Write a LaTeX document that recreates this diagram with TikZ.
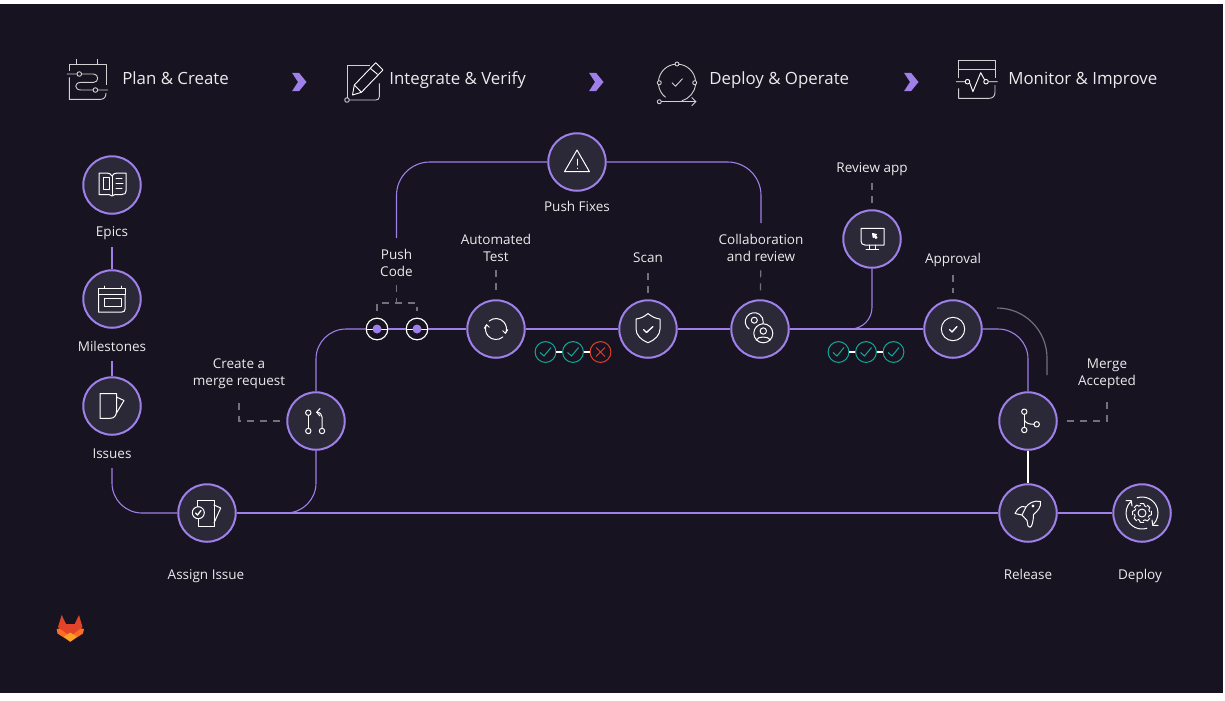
\documentclass[tikz,border=0pt]{standalone}
\usepackage{fontspec}
\setmainfont{Open Sans}
\usetikzlibrary{arrows.meta}
\definecolor{pagebg}{HTML}{171321}
\definecolor{discbg}{HTML}{2B2838}
\definecolor{accent}{HTML}{9E80E8}
\definecolor{dashgray}{HTML}{74717C}
\definecolor{okteal}{HTML}{12A89B}
\definecolor{badred}{HTML}{E0402A}
\definecolor{foxred}{HTML}{E24329}
\definecolor{foxorange}{HTML}{FC6D26}
\definecolor{foxyellow}{HTML}{FCA326}
\tikzset{
  stage/.style={circle,draw=accent,line width=1.2pt,fill=discbg,minimum size=34.5pt,inner sep=0pt},
  dotring/.style={circle,draw=white,line width=.7pt,fill=pagebg,minimum size=13pt,inner sep=0pt},
  checkring/.style={circle,draw=okteal,line width=.6pt,fill=pagebg,minimum size=12.5pt,inner sep=0pt},
  crossring/.style={circle,draw=badred,line width=.6pt,fill=pagebg,minimum size=12.5pt,inner sep=0pt},
  lab/.style={text=white!92!black,font=\fontsize{8.1}{10.2}\selectfont,align=center,inner sep=0pt},
  baselab/.style={lab,anchor=base},
  head/.style={text=white!92!black,font=\fontsize{10.1}{12}\selectfont,anchor=base west,inner sep=0pt},
  flow/.style={draw=accent,line width=.65pt},
  bigcorner/.style={rounded corners=18pt},
  leader/.style={draw=dashgray,line width=.7pt,dash pattern=on 4.2pt off 3.6pt},
  ico/.style={draw=white,line width=.6pt,line join=round,line cap=round},
  headico/.style={draw=white!82!black,line width=.55pt,line join=round},
}
\newcommand{\chevron}[1]{\fill[accent,shift={(#1)}] (-7,-9.2) -- (0,-9.2) -- (7.5,0) -- (0,9.2) -- (-7,9.2) -- (-1,0) -- cycle;}
\begin{document}
\begin{tikzpicture}[x=.6pt,y=-.6pt]
\useasboundingbox (0,0) rectangle (1225,700);
\fill[white] (0,0) rectangle (1225,700);
\fill[pagebg] (0,4) rectangle (1223,693);

% stages
\node[stage] (epics) at (112,185) {};
\node[stage] (miles) at (112,299) {};
\node[stage] (issues) at (112,406) {};
\node[stage] (assign) at (207,513) {};
\node[stage] (mr) at (316,421) {};
\node[stage] (test) at (496,329) {};
\node[stage] (scan) at (648,329) {};
\node[stage] (collab) at (760,329) {};
\node[stage] (fixes) at (577,162) {};
\node[stage] (review) at (872,239) {};
\node[stage] (approval) at (953,329) {};
\node[stage] (merge) at (1028,421) {};
\node[stage] (release) at (1028,513) {};
\node[stage] (deploy) at (1142,513) {};
\node[dotring] (push1) at (377,329) {};
\node[dotring] (push2) at (417,329) {};

% labels
\node[baselab] (epicslab) at (112,236.7) {Epics};
\node[baselab] (mileslab) at (112,351.7) {Milestones};
\node[baselab] (issueslab) at (112,458.6) {Issues};
\node[baselab] (assignlab) at (206,579) {Assign Issue};
\node[lab] (mrlab) at (239,374) {Create a\\merge request};
\node[lab] (pushlab) at (396.5,263) {Push\\Code};
\node[lab] (testlab) at (496,248) {Automated\\Test};
\node[baselab] (scanlab) at (648,262.7) {Scan};
\node[lab] (collablab) at (761,248) {Collaboration\\and review};
\node[baselab] (fixeslab) at (577,211.7) {Push Fixes};
\node[baselab] (reviewlab) at (872,172.7) {Review app};
\node[baselab] (approvallab) at (953,263.3) {Approval};
\node[lab] (mergelab) at (1107,374) {Merge\\Accepted};
\node[baselab] (releaselab) at (1028,579) {Release};
\node[baselab] (deploylab) at (1140,579) {Deploy};

% free ends
\coordinate (pfleft) at (396.5,238);
\coordinate (pfright) at (761,223);
\coordinate (epicsend) at (112,247);
\coordinate (milesend) at (112,361);
\coordinate (issuesend) at (112,468);
\coordinate (arcstart) at (997,308);
\coordinate (arcend) at (1047,375);
\coordinate (pushjoin) at (396.5,303);

% flow lines
\draw[flow] (epicsend) -- (miles);
\draw[flow] (milesend) -- (issues);
\draw[flow,bigcorner] (issuesend) |- (assign);
\draw[flow] (assign) -- (release);
\draw[flow,bigcorner] (assign) -| (mr);
\draw[flow,bigcorner] (mr) |- (push1);
\draw[flow] (push1) -- (push2);
\draw[flow] (push2) -- (test);
\draw[flow] (test) -- (scan);
\draw[flow] (scan) -- (collab);
\draw[flow] (collab) -- (approval);
\draw[flow,rounded corners=13pt] (review) |- (collab);
\draw[flow,bigcorner] (approval) -| (merge);
\draw[white,line width=.65pt] (merge) -- (release);
\draw[flow] (release) -- (deploy);
\draw[flow,rounded corners=20pt] (pfleft) |- (fixes);
\draw[flow,rounded corners=20pt] (fixes) -| (pfright);
\draw[dashgray,line width=.7pt,rounded corners=30pt] (arcstart) -| (arcend);

% dashed leaders
\draw[leader,shorten <=5pt,shorten >=4pt] (testlab) -- (test);
\draw[leader,shorten <=6pt,shorten >=4pt] (scanlab) -- (scan);
\draw[leader,shorten <=5pt,shorten >=4pt] (collablab) -- (collab);
\draw[leader,shorten <=4.2pt,shorten >=4pt] (reviewlab) -- (review);
\draw[leader,shorten <=5pt,shorten >=4pt] (approvallab) -- (approval);
\draw[leader,shorten <=5pt] (pushlab) -- (pushjoin);
\draw[leader,shorten <=4pt,shorten >=4pt] (push1) |- (pushjoin) -| (push2);
\draw[leader,shorten <=3.9pt,shorten >=4.5pt] (mr) -| (mrlab);
\draw[leader,shorten <=5.4pt,shorten >=4.5pt] (merge) -| (mergelab);

% dots on the push line
\foreach \p in {push1,push2} {
  \draw[white,line width=.6pt] (\p.west) -- (\p.east);
  \fill[accent] (\p) circle[radius=4.5];
}

% check rows
\node[checkring] (chka) at (545.5,352) {};
\node[checkring] (chkb) at (573,352) {};
\node[crossring] (chkc) at (600.5,352) {};
\node[checkring] (chkd) at (838.5,352) {};
\node[checkring] (chke) at (866,352) {};
\node[checkring] (chkf) at (893.5,352) {};
\draw[white,line width=.7pt] (chka) -- (chkb);
\draw[white,line width=.7pt] (chkb) -- (chkc);
\draw[white,line width=.7pt] (chkd) -- (chke);
\draw[white,line width=.7pt] (chke) -- (chkf);
\foreach \c in {chka,chkb,chkd,chke,chkf}
  \draw[okteal,line width=.6pt,shift={(\c)}] (-5.5,.5) -- (-1.5,4) -- (5.5,-4.5);
\draw[badred,line width=.6pt,shift={(chkc)}] (-4.5,-4.5) -- (4.5,4.5) (-4.5,4.5) -- (4.5,-4.5);

% icons in the discs
\begin{scope}[shift={(epics)},ico]
  \draw (-13,-12) -- (-13,9.5) -- (-3,9.5) -- (0,11) -- (3,9.5) -- (10,9.5) .. controls (13,9.5) and (14,8) .. (14,6) -- (14,-12) -- (5,-12) .. controls (3,-12) and (1,-11) .. (0,-9) .. controls (-1,-11) and (-3,-12) .. (-5,-12) -- cycle;
  \draw (0,-9) -- (0,10);
  \draw (-9,-7.5) rectangle (-3,4);
  \draw (4,-6.5) -- (10,-6.5) (4,-1.5) -- (11,-1.5) (4,3) -- (10,3);
\end{scope}
\begin{scope}[shift={(miles)},ico]
  \draw (-13.5,-11) rectangle (13,-4.5);
  \draw (-7.5,-13) -- (-7.5,-11) (9,-13) -- (9,-11);
  \draw (-13.5,-4.5) -- (-13.5,13) -- (10,13) .. controls (12,13) and (13,12) .. (13,10) -- (13,-4.5);
  \draw (-7.5,-1) -- (9,-1) -- (9,7) -- (-7.5,7) -- cycle;
\end{scope}
\begin{scope}[shift={(issues)},ico]
  \draw (-12,-12.5) -- (4.5,-12.5) -- (4.5,5) .. controls (4.5,10) and (2,12.3) .. (-2,12.3) -- (-12,12.3) -- cycle;
  \draw (4.5,-9) -- (12,-5.5) -- (4.5,7);
\end{scope}
\begin{scope}[shift={(assign)},ico]
  \draw (-10,-6) -- (-10,-13) -- (7,-13) -- (7,13) -- (-9,13) -- (-9,6);
  \draw (7,-8) -- (13.7,-5) -- (7,10);
  \fill[discbg] (-8.7,-.3) circle[radius=6];
  \draw (-8.7,-.3) circle[radius=6];
  \draw[line width=.8pt] (-11.5,0) -- (-9.5,2) -- (-6,-2.5);
\end{scope}
\begin{scope}[shift={(mr)},ico]
  \draw (-7.7,-8.3) circle[radius=2.7] (-7.7,10) circle[radius=2.7] (6,10) circle[radius=2.7];
  \draw (-7.7,-5.6) -- (-7.7,7.3);
  \draw (6,7.3) -- (6,-4) .. controls (6,-7) and (4,-8.7) .. (.7,-8.7);
  \draw (4,-12.5) -- (.7,-8.7) -- (4,-5);
\end{scope}
\begin{scope}[shift={(test)},ico]
  \draw (229:10.5) arc[start angle=229,end angle=382,radius=10.5];
  \draw (49:10.5) arc[start angle=49,end angle=202,radius=10.5];
  \draw (6.7,1.7) -- (9.3,4.3) -- (11.7,.7);
  \draw (-6.7,-1.7) -- (-9.3,-4.3) -- (-11.7,-.7);
\end{scope}
\begin{scope}[shift={(scan)},ico]
  \draw (0,-15.5) .. controls (-4,-12) and (-8,-10.5) .. (-12,-10) -- (-12,0) .. controls (-12,6) and (-7,11) .. (0,13.7) .. controls (7,11) and (12,6) .. (12,0) -- (12,-10) .. controls (8,-10.5) and (4,-12) .. (0,-15.5) -- cycle;
  \draw[line width=.8pt] (-4.5,.5) -- (-1.5,3.5) -- (5,-2.5);
\end{scope}
\begin{scope}[shift={(collab)},ico]
  \draw[shift={(-5.7,-7.3)}] (125:9) arc[start angle=125,end angle=420,radius=9];
  \fill[discbg] (3.3,4.3) circle[radius=9.5];
  \draw (3.3,4.3) circle[radius=9.5];
  \draw (-5.7,-8.8) circle[radius=3];
  \draw (3.3,2) circle[radius=3.2];
  \draw (-3.8,11) .. controls (-2,7) and (8.5,7) .. (10.3,11);
\end{scope}
\begin{scope}[shift={(fixes)},ico]
  \draw (0,-12) -- (12.5,9.7) -- (-12.5,9.7) -- cycle;
  \draw (0,-3) -- (0,3) (0,6) -- (0,6.5);
\end{scope}
\begin{scope}[shift={(review)},ico]
  \draw (-11,-10.7) -- (12,-10.7) -- (12,6) -- (-7,6) .. controls (-9.5,6) and (-11,4.5) .. (-11,2) -- cycle;
  \draw (-6,10) -- (6.5,10) (-3,6) -- (-3,10) (3.5,6) -- (3.5,10);
  \fill[white,draw=white] (.5,-5.5) -- (4.5,-4.5) -- (3.2,-3.6) -- (5,-1.5) -- (3.8,-.6) -- (2,-2.7) -- (1.2,-1.5) -- cycle;
\end{scope}
\begin{scope}[shift={(approval)},ico]
  \draw (0,0) circle[radius=11.7];
  \draw[line width=.8pt] (-3.5,.5) -- (-1,3) -- (4,-2.5);
\end{scope}
\begin{scope}[shift={(merge)},ico]
  \draw (-3.7,-9.3) circle[radius=2.7] (-3.7,9) circle[radius=2.7] (8.7,3.3) circle[radius=2.7];
  \draw (-3.7,-6.6) -- (-3.7,6.3);
  \draw (-3.7,-1.5) .. controls (-3,2) and (1,3.3) .. (6,3.3);
\end{scope}
\begin{scope}[shift={(release)},ico]
  \draw (12.5,-11.5) .. controls (6,-13) and (1,-10) .. (-2,-6) -- (-6,-6.5) .. controls (-10,-5) and (-12,-2) .. (-13,.5) -- (-6,2) -- (-1,7.5) -- (0,13) .. controls (1,15) and (3,14.5) .. (3.5,13) .. controls (5,9) and (5.5,5) .. (5.5,1.5) .. controls (9.5,-2) and (13.5,-6) .. (12.5,-11.5) -- cycle;
  \draw (-6,2) -- (-2,-6);
  \draw (5,-7) circle[radius=1];
\end{scope}
\begin{scope}[shift={(deploy)},ico]
  \foreach \a in {0,45,...,315}
    \draw (\a-11:9.5) -- (\a+11:9.5) -- (\a+20:7.6) -- (\a+34:7.6);
  \draw (0,0) circle[radius=4];
  \draw (252:16) arc[start angle=252,end angle=405,radius=16];
  \draw (72:16) arc[start angle=72,end angle=225,radius=16];
  \draw (10,7) -- (10.7,12.3) -- (16,12.5);
  \draw (-10,-7) -- (-10.7,-12.3) -- (-16,-12.5);
\end{scope}

% header row
\node[head] (planhead) at (122,84.3) {Plan \& Create};
\node[head] (verifyhead) at (389,84.3) {Integrate \& Verify};
\node[head] (operatehead) at (709,84.3) {Deploy \& Operate};
\node[head] (improvehead) at (1008,84.3) {Monitor \& Improve};
\chevron{299,82}
\chevron{596,82}
\chevron{911,82}

% plan icon
\draw[headico] (69.3,70.5) -- (69.3,64) -- (106,64) -- (106,84.8);
\draw[headico] (76.8,59.3) -- (76.8,64) (97,59.3) -- (97,64);
\draw[headico] (69.3,77.3) -- (69.3,99.4) -- (100,99.4) .. controls (104,99.4) and (106,97) .. (106,93.2);
\draw[headico] (66.8,74) -- (77,74) (81.6,74) -- (93.6,74) .. controls (99,74) and (99,82.4) .. (93.6,82.4) -- (81,82.4) .. controls (74,82.4) and (74,90) .. (81,90) -- (93,90) (97.7,90) -- (107.9,90);
\draw[headico] (79.3,74) circle[radius=2.3] (95.4,90) circle[radius=2.3];

% integrate icon
\draw[headico] (370,65.7) -- (347,65.7) -- (347,97.9);
\draw[headico] (379.3,83.3) -- (379.3,96.7) .. controls (379.3,98.8) and (378,100) .. (375.7,100) -- (349.3,100);
\draw[headico] (347,100) circle[radius=2.3];
\draw[headico,white] (375.7,62.7) -- (382.9,70) -- (361.4,92.3) -- (352.5,95) -- (354.3,85) -- cycle;
\draw[headico,white] (370.4,68.4) -- (377.5,74.3);
\draw[headico,white] (354.3,85) -- (361.4,92.3);

% deploy icon
\begin{scope}[shift={(677,82.7)}]
  \draw[headico] (186:18.6) arc[start angle=186,end angle=266,radius=18.6];
  \draw[headico] (274:18.6) arc[start angle=274,end angle=354,radius=18.6];
  \draw[headico] (6:18.6) arc[start angle=6,end angle=75,radius=18.6];
  \draw[headico] (174:18.6) arc[start angle=174,end angle=128,radius=18.6];
  \draw[headico] (0,-18.7) circle[radius=2] (-17.7,0) circle[radius=2] (17.7,0) circle[radius=2] (-17.7,19) circle[radius=2];
  \draw[headico,-{Straight Barb[length=2.5pt]}] (-15.7,19) -- (19.5,19);
  \draw[headico] (-5,0) -- (-1.5,3.5) -- (5.5,-4);
\end{scope}

% monitor icon
\draw[headico] (958.6,78) -- (958.6,60.7) -- (995,60.7) -- (995,78);
\draw[headico] (958.6,69.3) -- (995,69.3);
\draw[headico] (958.6,88.3) -- (958.6,98.3) -- (989,98.3) .. controls (993,98.3) and (995,96) .. (995,92) -- (995,85);
\draw[headico,white] (956,81.7) -- (965.2,81.7) (969.8,83) -- (972.9,91.7) -- (980.7,72.7) -- (984.6,79.7) (988.3,81.7) -- (997.5,81.7);
\draw[headico,white] (967.5,81.7) circle[radius=2.3] (986,81.7) circle[radius=2.3];

% logo
\fill[foxorange] (56.7,629) -- (57.5,633.5) -- (70.3,641.7) -- (83,633.5) -- (84,629) -- (70.3,626) -- cycle;
\fill[foxred] (61.7,615) -- (58,627) -- (64.5,632) -- (70.3,636) -- (76,632) -- (82.5,627) -- (79,615) -- (74.7,624) -- (66,624) -- cycle;
\fill[foxyellow] (64,636.7) -- (70.3,632.5) -- (76.7,636.7) -- (70.3,641.7) -- cycle;
\end{tikzpicture}
\end{document}
